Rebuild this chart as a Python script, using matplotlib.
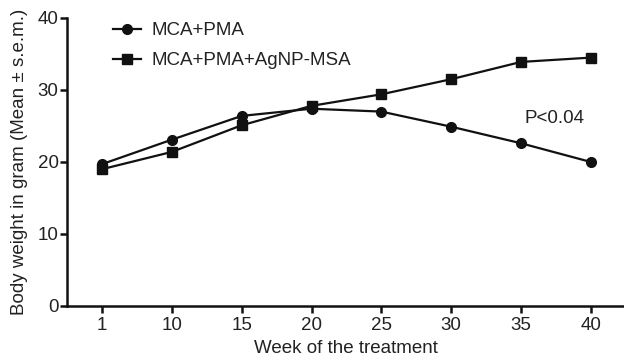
import matplotlib
matplotlib.use("Agg")
import matplotlib.pyplot as plt

plt.rcParams['font.family'] = ['Liberation Sans', 'DejaVu Sans']

weeks = ["1", "10", "15", "20", "25", "30", "35", "40"]
mca_pma = [19.7, 23.1, 26.4, 27.4, 27.0, 24.9, 22.6, 20.0]
mca_pma_agnp = [19.0, 21.4, 25.1, 27.8, 29.4, 31.5, 33.9, 34.5]
series_labels = ["MCA+PMA", "MCA+PMA+AgNP-MSA"]
yticks = [0, 10, 20, 30, 40]

FS = 13.5

fig = plt.figure(figsize=(6.24, 3.57), dpi=100)
ax = fig.add_axes([67/624, 51/357, 1 - 67/624 + 0.003, (306-18)/357])

x = list(range(len(weeks)))
ax.plot(x, mca_pma, '-o', color='#111111', lw=1.6, ms=7, label=series_labels[0])
ax.plot(x, mca_pma_agnp, '-s', color='#111111', lw=1.6, ms=7, label=series_labels[1])

ax.set_xlim(-0.5, 7.5)
ax.set_ylim(0, 40)
ax.set_xticks(x)
ax.set_xticklabels(weeks)
ax.set_yticks(yticks)
for s in ['top', 'right']:
    ax.spines[s].set_visible(False)
for s in ['left', 'bottom']:
    ax.spines[s].set_linewidth(1.8)
    ax.spines[s].set_color('#111111')
ax.tick_params(axis='both', direction='out', length=5, width=1.8, labelsize=FS, colors='#111111', labelcolor='#222222')
ax.tick_params(axis='y', pad=1)
ax.tick_params(axis='x', pad=3)

ax.set_xlabel("Week of the treatment", fontsize=FS, color='#222222', labelpad=4)
ax.set_ylabel("Body weight in gram (Mean \u00b1 s.e.m.)", fontsize=FS, color='#222222', labelpad=7)

ax.text(6.48, 26.1, "P<0.04", fontsize=FS, color='#222222', ha='center', va='center')

leg = ax.legend(loc='upper left', bbox_to_anchor=(100/624, 0.975), bbox_transform=fig.transFigure,
                frameon=False, fontsize=FS, handlelength=1.5, handletextpad=0.55,
                labelspacing=0.7, borderaxespad=0.3)
for t in leg.get_texts():
    t.set_color('#222222')

fig.savefig("out.png", dpi=100)
